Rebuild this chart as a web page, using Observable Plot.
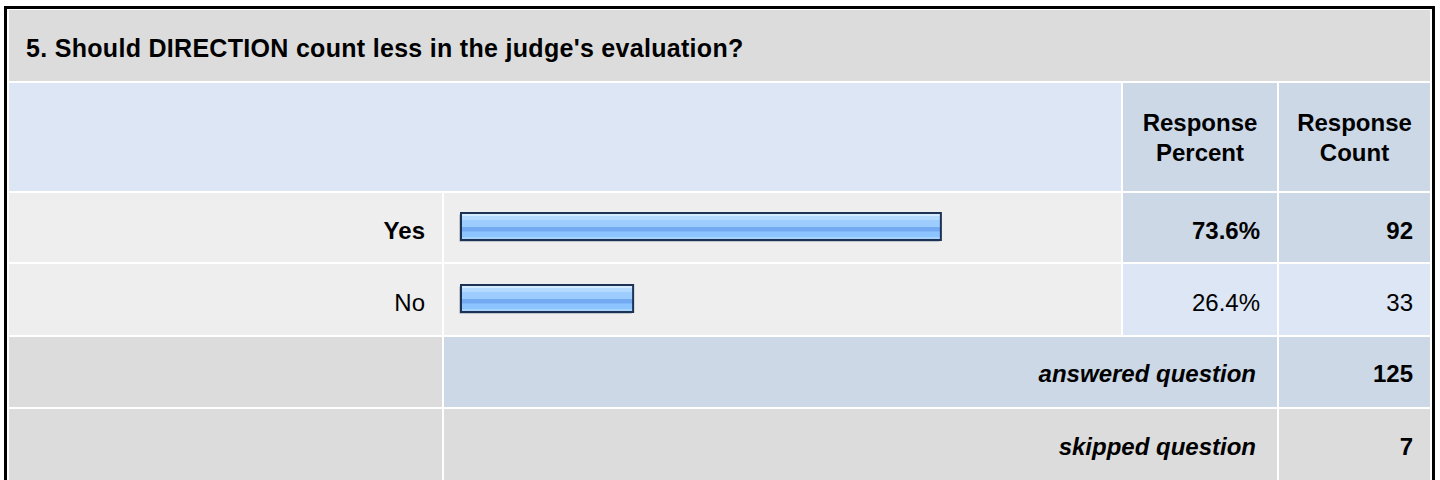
<!DOCTYPE html>
<html>
<head>
<meta charset="utf-8">
<script src="https://cdn.jsdelivr.net/npm/d3@7"></script>
<script src="https://cdn.jsdelivr.net/npm/@observablehq/plot@0.6"></script>
<style>
  html, body { margin: 0; padding: 0; background: #fff; }
  body { width: 1440px; height: 480px; overflow: hidden; position: relative;
         font-family: "Liberation Sans", Arial, Helvetica, sans-serif; color: #000; }
  .frame { position: absolute; left: 4px; top: 6px; width: 1425px; height: 490px;
           border: 3px solid #000; box-sizing: content-box; }
  .cell { position: absolute; }
  .t { position: absolute; white-space: nowrap; line-height: 1; }
  #bars { position: absolute; left: 444px; top: 191px; }
  #bars svg { background: transparent; }
</style>
</head>
<body>
<div class="frame"></div>
<div id="table"></div>
<div id="bars"></div>
<script>
// ---- data ----
const title = "5. Should DIRECTION count less in the judge's evaluation?";
const headerPercent = ["Response", "Percent"];
const headerCount = ["Response", "Count"];
const categories = ["Yes", "No"];
const percents = [73.6, 26.4];
const counts = [92, 33];
const summaryLabels = ["answered question", "skipped question"];
const summaryValues = [125, 7];

const rows = categories.map((c, i) => ({category: c, percent: percents[i], count: counts[i]}));
const maxPct = d3.max(percents);

// ---- table layout (HTML) ----
const C = {gray: "#dcdcdc", light: "#dce6f4", dark: "#ccd8e6", row: "#eeeeee"};
const table = document.getElementById("table");
function cell(x0, x1, y0, y1, bg) {
  const d = document.createElement("div");
  d.className = "cell";
  Object.assign(d.style, {left: x0 + "px", top: y0 + "px", width: (x1 - x0) + "px", height: (y1 - y0) + "px", background: bg});
  table.appendChild(d);
}
function text(x, baseline, str, {size = 24, weight = "normal", style = "normal", anchor = "start", spacing = 0} = {}) {
  const d = document.createElement("div");
  d.className = "t";
  d.textContent = str;
  Object.assign(d.style, {fontSize: size + "px", fontWeight: weight, fontStyle: style,
    top: (baseline - 0.8465 * size) + "px", letterSpacing: spacing + "px"});
  if (anchor === "start") d.style.left = x + "px";
  else if (anchor === "end") d.style.right = (1440 - x) + "px";
  else { d.style.left = (x - 200) + "px"; d.style.width = "400px"; d.style.textAlign = "center"; }
  table.appendChild(d);
}

// columns
const X = {l0: 9, l1: 442, b0: 444, b1: 1121, p0: 1123, p1: 1277, c0: 1279, c1: 1430};
// title row
cell(X.l0, X.c1, 10, 81, C.gray);
text(26, 56.7, title, {size: 25, weight: "bold", spacing: 0.3});
// header row
cell(X.l0, X.b1, 83, 191, C.light);
cell(X.p0, X.p1, 83, 191, C.dark);
cell(X.c0, X.c1, 83, 191, C.dark);
headerPercent.forEach((s, i) => text((X.p0 + X.p1) / 2, 131.7 + 30 * i, s, {weight: "bold", anchor: "middle"}));
headerCount.forEach((s, i) => text((X.c0 + X.c1) / 2, 131.7 + 30 * i, s, {weight: "bold", anchor: "middle"}));
// answer rows
const rowY = [[193, 262], [264, 335]];
rows.forEach((r, i) => {
  const [y0, y1] = rowY[i];
  const hi = r.percent === maxPct;
  cell(X.l0, X.l1, y0, y1, C.row);
  cell(X.b0, X.b1, y0, y1, C.row);
  cell(X.p0, X.p1, y0, y1, hi ? C.dark : C.light);
  cell(X.c0, X.c1, y0, y1, hi ? C.dark : C.light);
  const bl = (y0 + y1) / 2 + 11.8;
  const w = hi ? "bold" : "normal";
  text(X.l1 - 17, bl, r.category, {weight: w, anchor: "end"});
  text(X.p1 - 17, bl, r.percent.toFixed(1) + "%", {weight: w, anchor: "end"});
  text(X.c1 - 17, bl, String(r.count), {weight: w, anchor: "end"});
});
// summary rows
const sumY = [[337, 407], [409, 490]];
summaryLabels.forEach((lab, i) => {
  const [y0, y1] = sumY[i];
  const bg = i === 0 ? C.dark : C.gray;
  cell(X.l0, X.l1, y0, y1, C.gray);
  cell(X.b0, X.p1, y0, y1, bg);
  cell(X.c0, X.c1, y0, y1, bg);
  const bl = i === 0 ? 382 : 455;
  text(X.p1 - 21, bl, lab, {weight: "bold", style: "italic", anchor: "end"});
  text(X.c1 - 17, bl, String(summaryValues[i]), {weight: "bold", anchor: "end"});
});

// ---- bars (Observable Plot) ----
const chart = Plot.plot({
  width: 677,
  height: 144,
  marginLeft: 17,
  marginRight: 8,
  marginTop: 0,
  marginBottom: 0,
  style: {background: "transparent"},
  x: {domain: [0, 100], axis: null},
  y: {domain: categories, padding: 0, axis: null},
  marks: [
    Plot.barX(rows, {x: "percent", y: "category", insetTop: 22, insetBottom: 23,
      fill: "#8f9aa6", dx: -1.5, dy: 1.5}),
    Plot.barX(rows, {x: "percent", y: "category", insetTop: 22, insetBottom: 23,
      fill: "url(#barGrad)", stroke: "#1c3355", strokeWidth: 2})
  ]
});
const defs = d3.select(chart).insert("defs", ":first-child");
const g = defs.append("linearGradient").attr("id", "barGrad")
  .attr("x1", 0).attr("x2", 0).attr("y1", 0).attr("y2", 1);
[
  [0, "#d3eaff"], [0.12, "#d3eaff"], [0.13, "#b4dbff"], [0.25, "#b4dbff"],
  [0.26, "#9dcdff"], [0.52, "#9dcdff"], [0.53, "#74aaf2"], [0.68, "#74aaf2"],
  [0.69, "#8cc4ff"], [0.88, "#8cc4ff"], [0.89, "#a8d3ff"], [1, "#a8d3ff"]
].forEach(([o, c]) => g.append("stop").attr("offset", o).attr("stop-color", c));
document.getElementById("bars").appendChild(chart);
</script>
</body>
</html>
